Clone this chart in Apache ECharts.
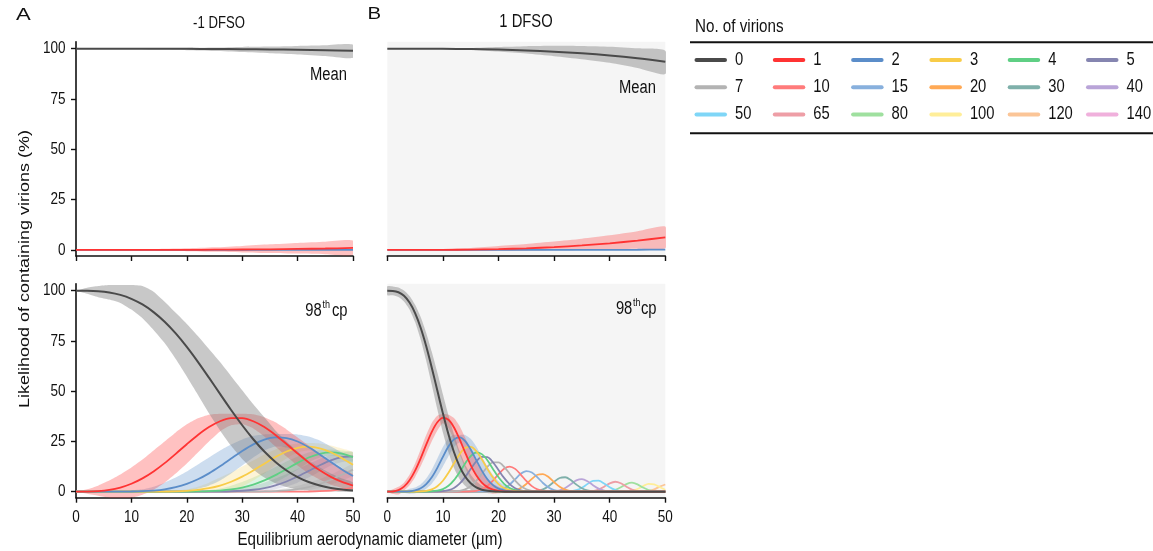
<!DOCTYPE html>
<html><head><meta charset="utf-8">
<script src="https://cdn.jsdelivr.net/npm/echarts@6/dist/echarts.min.js"></script>
<style>html,body{margin:0;padding:0;background:#fff}#c{width:1153px;height:551px}</style>
</head><body><div id="c"></div>
<script>
// ---------------- labels / categories ----------------
const virionCounts = [0,1,2,3,4,5,7,10,15,20,30,40,50,65,80,100,120,140];
const virionColors = ['#4a4a4a','#ff3333','#5b8dc9','#f8cc48','#5fcf84','#8585b0','#b3b3b3','#ff7b7b','#88b0dd','#ffa955','#7fb0aa','#b9a4d8','#7fd6f7','#ee9ea6','#9fe09f','#ffee99','#fbc597','#f0b0dc'];
const xTicks = [0,10,20,30,40,50];
const yTicks = [0,25,50,75,100];
const panelLetters = ['A','B'];
const panelTitles = ['-1 DFSO','1 DFSO'];
const rowLabels = ['Mean','98th cp'];
const xAxisTitle = 'Equilibrium aerodynamic diameter (µm)';
const yAxisTitle = 'Likelihood of containing virions (%)';
const legendTitle = 'No. of virions';

// ---------------- Mean, -1 DFSO ----------------
const dTop = [0,5,10,15,20,25,30,35,40,45,50];
const meanNeg0 = [100,100,99.99,99.97,99.94,99.88,99.78,99.66,99.49,99.27,99.0];
const meanNeg1 = [0,0,0.01,0.03,0.06,0.12,0.22,0.34,0.51,0.72,0.99];
const meanNeg2 = [0,0,0,0,0,0,0,0,0,0.01,0.01];
const meanNeg0Lo = [100,100,99.9,99.6,99.3,98.9,98.4,97.8,97.2,96.4,95.5];
const meanNeg0Hi = [100,100,100.1,100.2,100.4,100.6,100.9,101.1,101.4,101.7,102];
const meanNeg1Lo = [0,0,-0.2,-0.4,-0.6,-0.9,-1.2,-1.5,-1.8,-2.1,-2.4];
const meanNeg1Hi = [0,0.05,0.2,0.5,0.8,1.3,2,2.8,3.5,4.1,4.6];

// ---------------- Mean, 1 DFSO ----------------
const meanPos0 = [100,99.99,99.95,99.82,99.57,99.17,98.56,97.73,96.63,95.23,93.52];
const meanPos1 = [0,0.01,0.05,0.18,0.43,0.83,1.43,2.25,3.31,4.65,6.27];
const meanPos2 = [0,0,0,0,0,0,0.01,0.03,0.06,0.11,0.21];
const meanPos0Lo = [100,100,99.8,99.4,98.6,97.6,96.3,94.8,93,90.4,87.4];
const meanPos0Hi = [100,100,100.1,100.4,100.9,101.3,101.5,101.4,101,100.2,99];
const meanPos1Lo = [0,0,-0.2,-0.4,-0.5,-0.4,-0.2,0,0.3,0.6,0.8];
const meanPos1Hi = [0,0.1,0.3,1,2,3,4.2,5.6,7.3,9.3,11.6];

// ---------------- 98th cp, -1 DFSO ----------------
const dA = [0,2,4,6,8,10,12,14,16,18,20,22,24,26,28,30,32,34,36,38,40,42,44,46,48,50];
const cpNeg0 = [100,99.97,99.74,99.12,97.92,95.98,93.16,89.36,84.54,78.74,72.04,64.62,56.73,48.64,40.65,33.05,26.09,19.96,14.76,10.54,7.25,4.79,3.04,1.85,1.07,0.59];
const cpNeg1 = [0,0.03,0.26,0.88,2.06,3.94,6.6,10.05,14.19,18.83,23.63,28.21,32.16,35.06,36.59,36.59,35.05,32.17,28.24,23.71,19.03,14.55,10.62,7.38,4.87,3.05];
const cpNeg2 = [0,0,0,0,0.02,0.08,0.23,0.57,1.19,2.25,3.88,6.16,9.11,12.63,16.47,20.25,23.55,25.92,27.01,26.67,24.97,22.1,18.55,14.73,11.04,7.82];
const cpNeg3 = [0,0,0,0,0,0,0.01,0.02,0.07,0.18,0.42,0.9,1.72,3.03,4.94,7.47,10.55,13.92,17.22,20,21.84,22.38,21.6,19.6,16.69,13.36];
const cpNeg4 = [0,0,0,0,0,0,0,0,0,0.01,0.04,0.1,0.24,0.55,1.11,2.07,3.54,5.61,8.24,11.25,14.33,17,18.86,19.56,18.92,17.12];
const cpNeg5 = [0,0,0,0,0,0,0,0,0,0,0,0.01,0.03,0.08,0.2,0.46,0.95,1.81,3.15,5.06,7.52,10.33,13.17,15.61,17.16,17.55];
const cpNeg7 = [0,0,0,0,0,0,0,0,0,0,0,0,0,0,0,0.01,0.04,0.11,0.27,0.61,1.23,2.27,3.82,5.92,8.4,10.98];
const cpNeg10 = [0,0,0,0,0,0,0,0,0,0,0,0,0,0,0,0,0,0,0,0,0.03,0.09,0.23,0.52,1.09,2.05];
const cpNeg0Lo = [100,98.5,96.8,95.6,93.9,90.6,86.3,80.5,74,66,57.3,48.2,39,30.5,22.8,16.3,11,7,4.2,2.3,1.1,0.5,0.2,0.1,0,0];
const cpNeg0Hi = [100,101.5,102.3,102.8,102.8,102.8,102.3,99.5,94.5,89,83.5,77.5,71,64.5,57.5,50.5,43.5,37,30.5,25,20,15.5,12,9,6.5,4.5];
const cpNeg1Lo = [0,-1,-2,-3,-3.5,-3,-1.5,1,4.5,9,14,19.5,25,30,33,33.5,31.5,27.5,22.5,17.5,13,9,6,3.5,2,1];
const cpNeg1Hi = [0,1.2,3,5.5,8.5,12,16,20.5,25,29.5,33.5,36.5,38.3,38.8,38.8,38.8,38.5,37,34.5,31,27,23,19,15,11.5,8.5];
const cpNeg2Lo = [0,0,0,-0.2,-0.4,-0.5,-0.5,-0.5,-0.3,0,0.5,1.5,3,5.5,9,13,17,20.5,22.5,22,19.5,15.5,11.5,8,5,3];
const cpNeg2Hi = [0,0,0,0.2,0.4,0.7,1.2,2.5,4.5,7,10,13.5,17,20.5,23.5,26,27.8,28.5,28.7,28.7,28.5,27.5,25.5,22.5,19.5,16.5];
const cpNeg3Lo = [0,0,0,0,0,0,0,0,0,0,0,0,0,0,0.5,2.5,5.5,9,13,16.5,19.5,20.5,19,16,12,8];
const cpNeg3Hi = [0,0,0,0,0,0,0,0.1,0.3,0.5,1.2,2.5,4.5,7,9.5,12.5,15.5,18.5,21,23,24,24.2,24,23,21.5,19.5];
const cpNeg4Lo = [0,0,0,0,0,0,0,0,0,0,0,0,0,0,0,0,0.5,2,4.5,7.5,11,14.5,17,18,17,14.5];
const cpNeg4Hi = [0,0,0,0,0,0,0,0,0,0,0.1,0.3,0.8,1.6,3,4.8,7,9.5,12.3,15,17.5,19.5,20.7,21,20.5,19.5];
const cpNeg5Lo = [0,0,0,0,0,0,0,0,0,0,0,0,0,0,0,0,0,0.3,1.2,2.6,4.5,7,10,13,14.8,15.3];
const cpNeg5Hi = [0,0,0,0,0,0,0,0,0,0,0,0,0,0.5,1,1.8,3,4.5,6.5,8.8,11.3,13.8,16.2,18.2,19.5,19.8];
const cpNeg7Lo = [0,0,0,0,0,0,0,0,0,0,0,0,0,0,0,0,0,0,0,0,0.3,0.8,1.8,3.5,5.6,8];
const cpNeg7Hi = [0,0,0,0,0,0,0,0,0,0,0,0,0,0,0,0,0,0.6,1.1,1.8,3,4.5,6.3,8.6,11.2,13.8];

// ---------------- 98th cp, 1 DFSO  ([diameter, %] pairs) ----------------
const cpPos0 = [[0,100],[1,99.91],[2,99.25],[3,97.49],[4,94.15],[5,88.89],[6,81.59],[7,72.38],[8,61.72],[9,50.31],[10,38.97],[11,28.53],[12,19.63],[13,12.62],[14,7.54],[15,4.16],[16,2.11],[17,0.98],[18,0.41],[19,0.16],[20,0.05],[22,0],[50,0]];
const cpPos1 = [[0,0],[1,0.09],[2,0.75],[3,2.48],[4,5.68],[5,10.47],[6,16.6],[7,23.4],[8,29.78],[9,34.56],[10,36.72],[11,35.78],[12,31.96],[13,26.12],[14,19.48],[15,13.22],[16,8.14],[17,4.52],[18,2.26],[19,1.01],[20,0.4],[21,0.14],[22,0.04],[24,0],[50,0]];
const cpPos2 = [[0,0],[3,0.03],[4,0.17],[5,0.62],[6,1.69],[7,3.78],[8,7.18],[9,11.87],[10,17.3],[11,22.44],[12,26.02],[13,27.04],[14,25.19],[15,21.02],[16,15.71],[17,10.46],[18,6.21],[19,3.26],[20,1.51],[21,0.61],[22,0.21],[23,0.07],[25,0],[50,0]];
const cpPos3 = [[0,0],[4,0],[5,0.02],[6,0.12],[7,0.41],[8,1.15],[9,2.72],[10,5.43],[11,9.38],[12,14.12],[13,18.66],[14,21.71],[15,22.28],[16,20.21],[17,16.14],[18,11.38],[19,7.02],[20,3.79],[21,1.79],[22,0.74],[23,0.28],[24,0.09],[26,0],[50,0]];
const cpPos4 = [[0,0],[6,0.01],[7,0.03],[8,0.14],[9,0.47],[10,1.28],[11,2.94],[12,5.75],[13,9.66],[14,14.03],[15,17.71],[16,19.5],[17,18.68],[18,15.64],[19,11.34],[20,7.14],[21,3.92],[22,1.86],[23,0.76],[24,0.26],[25,0.09],[27,0],[50,0]];
const cpPos5 = [[0,0],[8,0.01],[9,0.06],[10,0.24],[11,0.74],[12,1.87],[13,4],[14,7.26],[15,11.27],[16,15.05],[17,17.3],[18,17.19],[19,14.66],[20,10.77],[21,6.84],[22,3.73],[23,1.74],[24,0.68],[25,0.23],[26,0.08],[28,0],[50,0]];
const cpPos7 = [[0,0],[11,0.03],[12,0.12],[13,0.41],[14,1.16],[15,2.71],[16,5.34],[17,8.83],[18,12.36],[19,14.58],[20,14.57],[21,12.4],[22,8.94],[23,5.45],[24,2.75],[25,1.19],[26,0.44],[27,0.13],[29,0],[50,0]];
const cpPos10 = [[0,0],[14,0],[15,0.12],[16,0.43],[17,1.22],[18,2.84],[19,5.47],[20,8.7],[21,11.45],[22,12.51],[23,11.35],[24,8.53],[25,5.32],[26,2.75],[27,1.17],[28,0.41],[29,0.12],[31,0],[50,0]];
const cpPos15 = [[0,0],[18,0],[19,0.18],[20,0.6],[21,1.62],[22,3.53],[23,6.22],[24,8.87],[25,10.21],[26,9.5],[27,7.14],[28,4.33],[29,2.12],[30,0.84],[31,0.27],[32,0.07],[34,0],[50,0]];
const cpPos20 = [[0,0],[21,0],[22,0.2],[23,0.67],[24,1.8],[25,3.8],[26,6.35],[27,8.4],[28,8.78],[29,7.26],[30,4.75],[31,2.45],[32,1],[33,0.32],[34,0.08],[36,0],[50,0]];
const cpPos30 = [[0,0],[25,0],[26,0.09],[27,0.38],[28,1.17],[29,2.75],[30,4.95],[31,6.81],[32,7.17],[33,5.77],[34,3.54],[35,1.67],[36,0.6],[37,0.16],[39,0],[50,0]];
const cpPos40 = [[0,0],[29,0],[30,0.19],[31,0.68],[32,1.84],[33,3.73],[34,5.61],[35,6.28],[36,5.22],[37,3.23],[38,1.49],[39,0.51],[40,0.13],[42,0],[50,0]];
const cpPos50 = [[0,0],[32,0],[33,0.2],[34,0.73],[35,1.95],[36,3.78],[37,5.34],[38,5.47],[39,4.08],[40,2.22],[41,0.87],[42,0.25],[43,0.05],[45,0],[50,0]];
const cpPos65 = [[0,0],[35,0],[36,0.06],[37,0.3],[38,1.02],[39,2.45],[40,4.14],[41,4.94],[42,4.17],[43,2.48],[44,1.04],[45,0.31],[46,0.07],[48,0],[50,0]];
const cpPos80 = [[0,0],[38,0],[39,0.05],[40,0.24],[41,0.88],[42,2.2],[43,3.77],[44,4.46],[45,3.63],[46,2.04],[47,0.79],[48,0.21],[49,0.04],[50,0]];
const cpPos100 = [[0,0],[42,0],[43,0.09],[44,0.42],[45,1.32],[46,2.78],[47,3.91],[48,3.65],[49,2.3],[50,0.97]];
const cpPos120 = [[0,0],[45,0],[46,0.07],[47,0.35],[48,1.17],[49,2.52],[50,3.57]];
const cpPos140 = [[0,0],[47,0],[48,0.01],[49,0.1],[50,0.47]];
const cpPos0Lo = [[0,97.8],[1,97.7],[2,96.9],[3,94.7],[4,90.7],[5,84.4],[6,75.7],[7,65.1],[8,53.2],[9,41],[10,29.5],[11,19.6],[12,11.8],[13,6.3],[14,2.9],[15,1],[16,0],[17,-0.5],[18,-0.5],[19,-0.3],[20,-0.2],[22,0],[24,0]];
const cpPos0Hi = [[0,102.2],[1,102.1],[2,101.6],[3,100.1],[4,97.4],[5,93],[6,86.9],[7,79],[8,69.6],[9,59.3],[10,48.5],[11,38],[12,28.5],[13,20.2],[14,13.5],[15,8.6],[16,5.2],[17,3],[18,1.8],[19,1],[20,0.6],[22,0.3],[24,0]];
const cpPos1Lo = [[0,0],[1,-1.2],[2,-1.4],[3,0.5],[4,3.2],[5,7.2],[6,12.6],[7,18.8],[8,25.1],[9,30.5],[10,34.1],[11,31.6],[12,25.7],[13,18.6],[14,11.8],[15,6.4],[16,2.7],[17,0.5],[18,-0.7],[19,-1],[20,-0.8],[21,-0.5],[22,0],[24,0]];
const cpPos1Hi = [[0,0],[1,1.2],[2,2.4],[3,4.5],[4,8.4],[5,14],[6,21],[7,28.2],[8,34.2],[9,37.8],[10,38.6],[11,38.3],[12,36.7],[13,32.7],[14,27],[15,20.8],[16,14.9],[17,10],[18,6.5],[19,4],[20,2.5],[21,1.5],[22,0.8],[24,0]];
const cpPos2Lo = [[0,0],[3,-0.5],[4,-1],[5,-0.8],[6,0],[7,1.5],[8,4],[9,7.8],[10,12.5],[11,17.6],[12,22.2],[13,24.3],[14,19.9],[15,14.2],[16,8.7],[17,4.3],[18,1.5],[19,0],[20,-0.5],[21,-0.5],[22,-0.3],[23,0],[26,0]];
const cpPos2Hi = [[0,0],[3,0.5],[4,1.4],[5,2.1],[6,3.6],[7,6.5],[8,10.9],[9,16.5],[10,22.2],[11,26.6],[12,28.3],[13,28.2],[14,28.2],[15,26.3],[16,22.5],[17,17.5],[18,12.5],[19,8.3],[20,5.2],[21,3.2],[22,2.1],[23,1.2],[24,0.6],[26,0]];

// ---------------- assembly ----------------
const FONT = "'Liberation Sans',Arial,sans-serif";
const SX = 0.82; // horizontal condensing of the reference lettering
const pairs = (xs, ys) => xs.map((x, i) => [x, ys[i]]);
const colorOf = k => virionColors[virionCounts.indexOf(k)];
function rgba(hex, a) {
  const n = parseInt(hex.slice(1), 16);
  return 'rgba(' + ((n >> 16) & 255) + ',' + ((n >> 8) & 255) + ',' + (n & 255) + ',' + a + ')';
}

const panels = [
  { lines: [[0, pairs(dTop, meanNeg0)], [1, pairs(dTop, meanNeg1)], [2, pairs(dTop, meanNeg2)]],
    bands: [[1, pairs(dTop, meanNeg1Lo), pairs(dTop, meanNeg1Hi)], [0, pairs(dTop, meanNeg0Lo), pairs(dTop, meanNeg0Hi)]] },
  { lines: [[0, pairs(dTop, meanPos0)], [1, pairs(dTop, meanPos1)], [2, pairs(dTop, meanPos2)]],
    bands: [[1, pairs(dTop, meanPos1Lo), pairs(dTop, meanPos1Hi)], [0, pairs(dTop, meanPos0Lo), pairs(dTop, meanPos0Hi)]] },
  { lines: [[0, pairs(dA, cpNeg0)], [1, pairs(dA, cpNeg1)], [2, pairs(dA, cpNeg2)], [3, pairs(dA, cpNeg3)], [4, pairs(dA, cpNeg4)], [5, pairs(dA, cpNeg5)], [7, pairs(dA, cpNeg7)], [10, pairs(dA, cpNeg10)]],
    bands: [[7, pairs(dA, cpNeg7Lo), pairs(dA, cpNeg7Hi)], [5, pairs(dA, cpNeg5Lo), pairs(dA, cpNeg5Hi)], [4, pairs(dA, cpNeg4Lo), pairs(dA, cpNeg4Hi)], [3, pairs(dA, cpNeg3Lo), pairs(dA, cpNeg3Hi)], [2, pairs(dA, cpNeg2Lo), pairs(dA, cpNeg2Hi)], [1, pairs(dA, cpNeg1Lo), pairs(dA, cpNeg1Hi)], [0, pairs(dA, cpNeg0Lo), pairs(dA, cpNeg0Hi)]] },
  { lines: [[0, cpPos0], [1, cpPos1], [2, cpPos2], [3, cpPos3], [4, cpPos4], [5, cpPos5], [7, cpPos7], [10, cpPos10], [15, cpPos15], [20, cpPos20], [30, cpPos30], [40, cpPos40], [50, cpPos50], [65, cpPos65], [80, cpPos80], [100, cpPos100], [120, cpPos120], [140, cpPos140]],
    bands: [[2, cpPos2Lo, cpPos2Hi], [1, cpPos1Lo, cpPos1Hi], [0, cpPos0Lo, cpPos0Hi]] }
];

const gridDefs = [
  { left: 76, top: 41.7, width: 277, height: 214.3 },
  { left: 387.3, top: 41.7, width: 278, height: 214.3 },
  { left: 76, top: 283.7, width: 277, height: 214 },
  { left: 387.3, top: 283.7, width: 278, height: 214 }
];
const grid = gridDefs.map((g, i) => Object.assign({}, g, (i % 2 === 1) ? { show: true, backgroundColor: '#f5f5f5', borderWidth: 0 } : { show: false }));

const xAxis = gridDefs.map((g, i) => ({
  type: 'value', gridIndex: i, min: 0, max: 50, interval: 10,
  axisLine: { show: true, onZero: false, lineStyle: { color: '#111', width: 1.6 } },
  axisTick: { show: true, length: 5, lineStyle: { color: '#111', width: 1.4 } },
  axisLabel: { show: false },
  splitLine: { show: false }
}));
const yAxis = gridDefs.map((g, i) => ({
  type: 'value', gridIndex: i, min: -3, max: 103.5, show: i % 2 === 0,
  axisLine: { show: true, onZero: false, lineStyle: { color: '#111', width: 1.6 } },
  axisTick: { show: true, length: 5, customValues: yTicks, lineStyle: { color: '#111', width: 1.4 } },
  axisLabel: { show: false },
  splitLine: { show: false }
}));

const series = [];
panels.forEach((p, gi) => {
  p.bands.forEach(([k, lo, hi]) => {
    const fill = k === 0 ? 'rgba(125,125,125,0.42)' : rgba(colorOf(k), k <= 2 ? 0.3 : 0.22);
    series.push({
      type: 'custom', xAxisIndex: gi, yAxisIndex: gi, z: 1, silent: true, clip: true,
      data: [[0, 0]],
      renderItem: (params, api) => {
        const pts = hi.map(pt => api.coord(pt)).concat(lo.slice().reverse().map(pt => api.coord(pt)));
        return { type: 'polygon', shape: { points: pts, smooth: 0.2 }, style: { fill: fill } };
      }
    });
  });
  p.lines.slice().reverse().forEach(([k, data]) => {
    series.push({
      type: 'line', xAxisIndex: gi, yAxisIndex: gi, z: 3, data: data,
      smooth: 0.3, symbol: 'none', showSymbol: false, silent: true,
      lineStyle: { color: colorOf(k), width: k === 0 ? 2 : 1.8 }
    });
  });
});

const chart = echarts.init(document.getElementById('c'), null, { renderer: 'canvas' });
chart.setOption({
  animation: false,
  backgroundColor: '#ffffff',
  grid: grid, xAxis: xAxis, yAxis: yAxis, series: series
});

// ---------------- text & legend (condensed lettering) ----------------
function txt(x, y, text, size, align, vAlign, extra) {
  return Object.assign({ type: 'text', x: x, y: y, silent: true, scaleX: SX, z: 10,
    style: { text: text, fontSize: size, fontFamily: FONT, fill: '#111',
      align: align, verticalAlign: vAlign, textAlign: align, textVerticalAlign: vAlign } }, extra || {});
}
const graphics = [];
// tick labels placed through the axes' own scales
[2, 3].forEach(gi => {
  const g = gridDefs[gi];
  xTicks.forEach(v => {
    const px = chart.convertToPixel({ xAxisIndex: gi }, v);
    graphics.push(txt(px, g.top + g.height + 19.5, String(v), 16.5, 'center', 'middle'));
  });
});
[0, 2].forEach(gi => {
  const g = gridDefs[gi];
  yTicks.forEach(v => {
    const py = chart.convertToPixel({ yAxisIndex: gi }, v);
    graphics.push(txt(g.left - 10.5, py, String(v), 16.5, 'right', 'middle'));
  });
});
graphics.push(txt(16, 15, panelLetters[0], 17, 'left', 'middle', { scaleX: 1.3 }));
graphics.push(txt(367.5, 14, panelLetters[1], 17, 'left', 'middle', { scaleX: 1.2 }));
graphics.push(txt(219, 24, panelTitles[0], 16, 'center', 'middle'));
graphics.push(txt(526, 22, panelTitles[1], 18, 'center', 'middle'));
graphics.push(txt(347, 75, rowLabels[0], 18, 'right', 'middle'));
graphics.push(txt(656, 88, rowLabels[0], 18, 'right', 'middle'));
[[321.7, 347.5, 311], [632.3, 656.5, 309]].forEach(([r98, rcp, yy]) => {
  graphics.push(txt(r98, yy, rowLabels[1].slice(0, 2), 18, 'right', 'middle'));
  graphics.push(txt(r98 + 0.8, yy - 6.5, rowLabels[1].slice(2, 4), 11, 'left', 'middle'));
  graphics.push(txt(rcp, yy, rowLabels[1].slice(5), 18, 'right', 'middle'));
});
graphics.push(txt(370, 540, xAxisTitle, 18.5, 'center', 'middle'));
graphics.push(txt(25, 269, yAxisTitle, 18, 'center', 'middle', { rotation: Math.PI / 2, scaleX: 1, scaleY: SX }));

// legend table
graphics.push(txt(695, 27, legendTitle, 18.5, 'left', 'middle'));
graphics.push({ type: 'line', silent: true, shape: { x1: 690, y1: 42.3, x2: 1153, y2: 42.3 }, style: { stroke: '#111', lineWidth: 2 } });
graphics.push({ type: 'line', silent: true, shape: { x1: 690, y1: 133.3, x2: 1153, y2: 133.3 }, style: { stroke: '#111', lineWidth: 2 } });
virionCounts.forEach((k, i) => {
  const col = i % 6, row = Math.floor(i / 6);
  const x0 = 695 + col * 78.3, y0 = 60 + row * 27.2;
  graphics.push({ type: 'line', silent: true, shape: { x1: x0 + 1.5, y1: y0, x2: x0 + 30, y2: y0 },
    style: { stroke: virionColors[i], lineWidth: 4, lineCap: 'round' } });
  graphics.push(txt(x0 + 40, y0, String(k), 18, 'left', 'middle'));
});

chart.setOption({ graphic: { elements: graphics } });
</script></body></html>
